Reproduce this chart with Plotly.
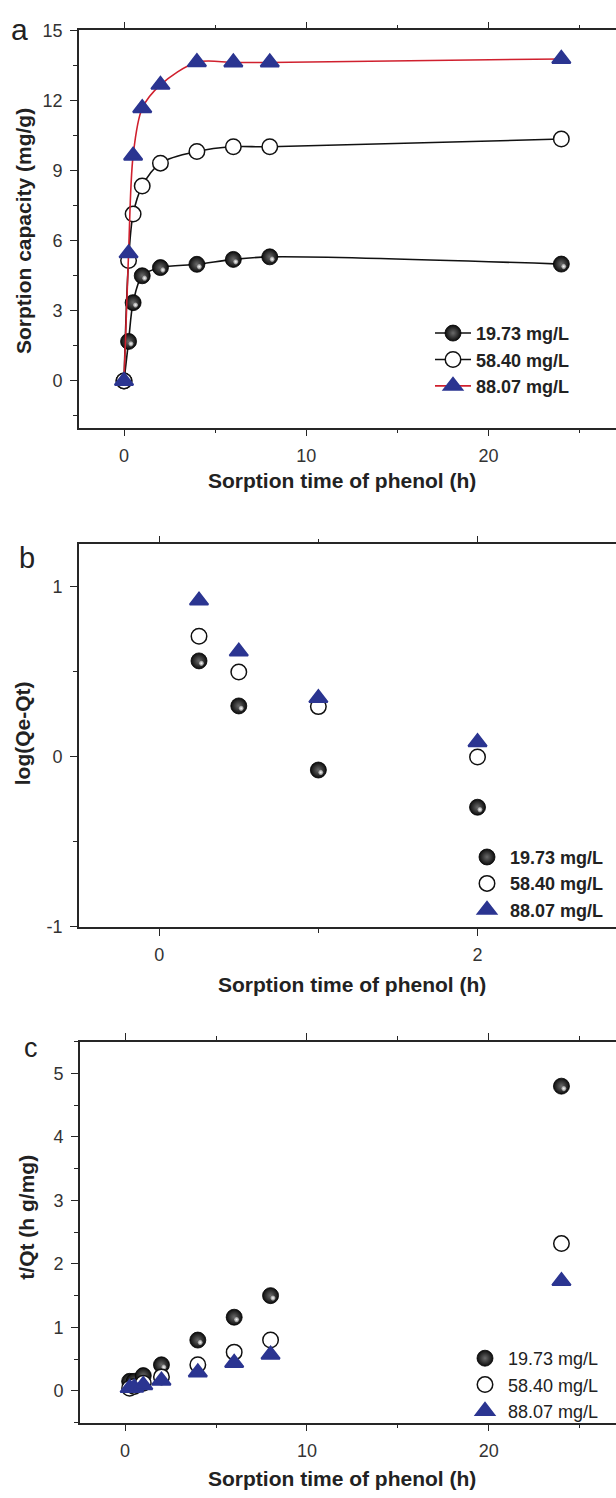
import plotly.graph_objects as go

# ---- kinetic data: phenol sorption at three initial concentrations ----
series_names = ["19.73 mg/L", "58.40 mg/L", "88.07 mg/L"]

# (a) sorption capacity Qt (mg/g) vs time (h)
t_hours = [0, 0.25, 0.5, 1, 2, 4, 6, 8, 24]
qt_1973 = [0, 1.69, 3.35, 4.50, 4.85, 4.99, 5.20, 5.31, 5.00]
qt_5840 = [0, 5.15, 7.14, 8.34, 9.32, 9.82, 10.02, 10.02, 10.35]
qt_8807 = [0, 5.46, 9.64, 11.67, 12.67, 13.64, 13.63, 13.63, 13.78]

# (b) pseudo-first-order plot log(Qe-Qt) vs time (h)
t_log = [0.25, 0.5, 1, 2]
log_1973 = [0.565, 0.30, -0.077, -0.296]
log_5840 = [0.71, 0.50, 0.296, 0.0]
log_8807 = [0.92, 0.62, 0.346, 0.087]
log_ticks = [-1, 0, 1]
log_tick_text = ["-1", "0", "1"]

# (c) pseudo-second-order plot t/Qt vs time (h)
t_ratio = [0.25, 0.5, 1, 2, 4, 6, 8, 24]
tq_1973 = [0.15, 0.15, 0.24, 0.41, 0.80, 1.16, 1.50, 4.80]
tq_5840 = [0.04, 0.07, 0.12, 0.22, 0.41, 0.61, 0.80, 2.32]
tq_8807 = [0.045, 0.05, 0.09, 0.16, 0.29, 0.44, 0.57, 1.73]

# ---- styling ----
FONT = "Liberation Sans, Arial, Helvetica, sans-serif"
AXIS = "#262626"
BLUE = "#2b3591"
RED = "#d0202e"
W, H = 616, 1498


def px_x(p):
    return p / W


def px_y(p):
    return 1 - p / H


sphere = dict(symbol="circle", size=16, color="#0c0c0c",
              gradient=dict(type="radial", color="#6a6a6a"),
              line=dict(width=0.8, color="#000"))
hollow_fill = dict(symbol="circle", size=15.5, color="white",
                   line=dict(width=1.5, color="#111"))
tri = dict(symbol="triangle-up", size=16, color=BLUE,
           line=dict(width=2, color=BLUE))
shine = dict(symbol="circle", size=5, color="rgba(210,210,210,0.55)",
             gradient=dict(type="radial", color="white"),
             angle=-45, standoff=3.4, line=dict(width=0))

fig = go.Figure()


def add_panel(xs, ys_list, xa, ya, legend, mode, line_colors):
    markers = [sphere, hollow_fill, tri]
    for i, ys in enumerate(ys_list):
        kw = dict(x=xs, y=ys, xaxis=xa, yaxis=ya, name=series_names[i],
                  legend=legend, marker=markers[i], mode=mode)
        if "lines" in mode:
            kw["line"] = dict(color=line_colors[i], width=1.6,
                              shape="spline", smoothing=0.9)
        fig.add_trace(go.Scatter(**kw))
        if i == 0:
            fig.add_trace(go.Scatter(x=xs, y=ys, xaxis=xa, yaxis=ya,
                                     mode="markers", marker=shine,
                                     showlegend=False, hoverinfo="skip"))


add_panel(t_hours, [qt_1973, qt_5840, qt_8807], "x", "y", "legend",
          "lines+markers", ["#111", "#111", RED])
add_panel(t_log, [log_1973, log_5840, log_8807], "x2", "y2", "legend2",
          "markers", None)
add_panel(t_ratio, [tq_1973, tq_5840, tq_8807], "x3", "y3", "legend3",
          "markers", None)


def axis(domain, rng, dtick, minor_dtick, anchor, tick0=0, mirror=False):
    return dict(domain=domain, range=rng, anchor=anchor, dtick=dtick,
                tick0=tick0, showgrid=False, zeroline=False,
                showline=True, linecolor=AXIS, linewidth=1.6,
                mirror=mirror, ticks="outside", ticklen=7, tickwidth=1.4,
                tickcolor=AXIS, ticklabelstandoff=4,
                tickfont=dict(family=FONT, size=18, color="#333"),
                minor=dict(ticks="outside", ticklen=4, tickwidth=1.4,
                           tickcolor=AXIS, dtick=minor_dtick, tick0=tick0,
                           showgrid=False))


yaxis2 = axis([px_y(929.3), px_y(541.7)], [-1, 1.25], 1, 0.5, "x2")
yaxis2.update(tickmode="array", tickvals=log_ticks, ticktext=log_tick_text)

fig.update_layout(
    width=W, height=H,
    margin=dict(l=0, r=0, t=0, b=0),
    paper_bgcolor="white", plot_bgcolor="white",
    font=dict(family=FONT, color="#222"),
    xaxis=axis([px_x(79), 1], [-2.47, 27.0], 10, 5, "y", mirror="ticks"),
    yaxis=axis([px_y(423.3), px_y(20.7)], [-2, 15], 3, 1.5, "x"),
    xaxis2=axis([px_x(79), 1], [-0.504, 2.87], 2, 1, "y2", mirror="ticks"),
    yaxis2=yaxis2,
    xaxis3=axis([px_x(80), 1], [-2.48, 27.0], 10, 5, "y3", mirror="ticks"),
    yaxis3=axis([px_y(1431.7), px_y(1045.7)], [-0.5, 5.5], 1, 0.5, "x3"),
    legend=dict(x=px_x(430), y=px_y(309), xanchor="left", yanchor="top",
                bgcolor="rgba(0,0,0,0)", tracegroupgap=0, itemwidth=36,
                font=dict(family=FONT, size=18, color="#222", weight="bold")),
    legend2=dict(x=px_x(464), y=px_y(840), xanchor="left", yanchor="top",
                 bgcolor="rgba(0,0,0,0)", tracegroupgap=0, itemwidth=36,
                 font=dict(family=FONT, size=18, color="#222", weight="bold")),
    legend3=dict(x=px_x(462), y=px_y(1348), xanchor="left", yanchor="top",
                 bgcolor="rgba(0,0,0,0)", tracegroupgap=0, itemwidth=36,
                 font=dict(family=FONT, size=18, color="#222")),
    showlegend=True,
)

# axis titles and panel letters
notes = [
    ("Sorption time of phenol (h)", 342, 477, 0, 21, True),
    ("Sorption time of phenol (h)", 352, 988, 0, 21, True),
    ("Sorption time of phenol (h)", 342, 1488, 0, 21, True),
    ("Sorption capacity (mg/g)", 23, 224, -90, 21, True),
    ("log(Qe-Qt)", 22, 733, -90, 21, True),
    ("t/Qt (h g/mg)", 27, 1224, -90, 21, True),
    ("a", 19, 20, 0, 30, False),
    ("b", 27, 555, 0, 29, False),
    ("c", 31, 1052, 0, 27, False),
]
for text, x, y, ang, size, bold in notes:
    fig.add_annotation(text=f"<b>{text}</b>" if bold else text,
                       x=px_x(x), y=px_y(y), xref="paper", yref="paper",
                       xanchor="center", yanchor="middle", textangle=ang,
                       showarrow=False,
                       font=dict(family=FONT, size=size, color="#222"))

fig.write_html("out.html")
